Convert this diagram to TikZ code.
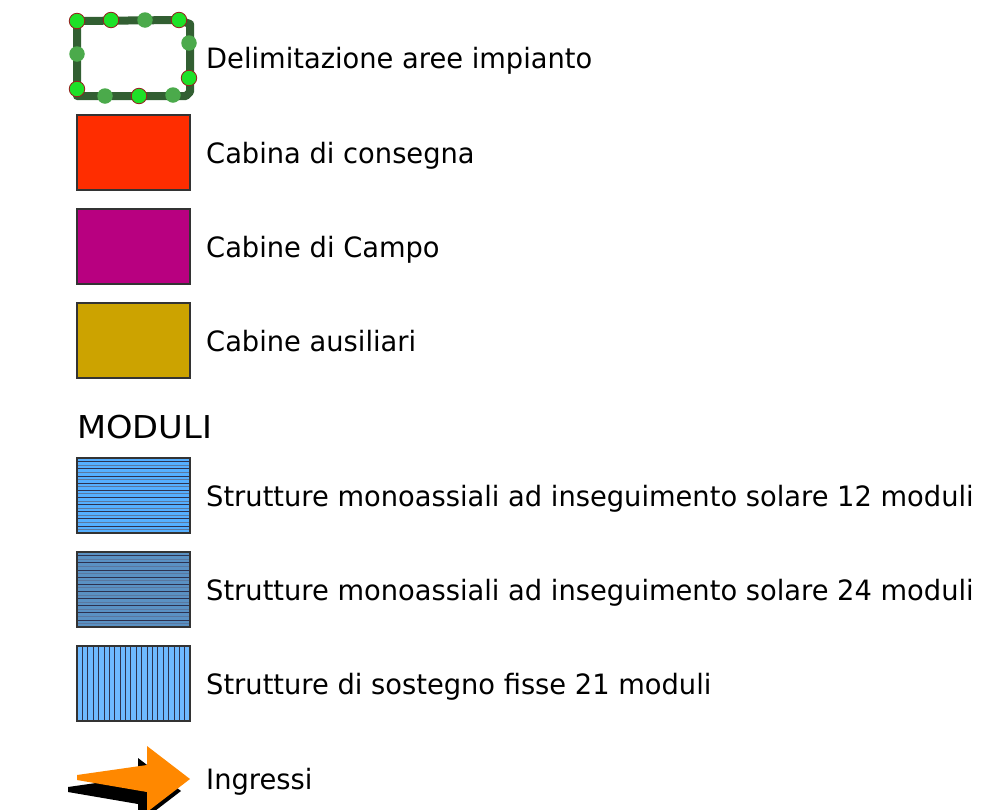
\documentclass[tikz,border=0pt]{standalone}
\usepackage{fontspec}
\setmainfont{DejaVu Sans}
\usetikzlibrary{calc}
\definecolor{fencedark}{RGB}{50,95,50}
\definecolor{dotbright}{RGB}{30,225,40}
\definecolor{dotmid}{RGB}{75,170,75}
\definecolor{dotrim}{RGB}{150,30,30}
\definecolor{cabred}{RGB}{255,45,0}
\definecolor{cabmag}{RGB}{184,0,128}
\definecolor{cabyel}{RGB}{204,163,0}
\definecolor{modA}{RGB}{85,175,255}
\definecolor{modB}{RGB}{90,145,195}
\definecolor{modC}{RGB}{110,185,255}
\definecolor{hatchdark}{RGB}{45,50,80}
\definecolor{hatchlight}{RGB}{90,120,160}
\definecolor{arroworange}{RGB}{255,136,0}
\newcommand\lblx{0.975}
\newcommand\lbltext[1]{\scalebox{\lblx}[1]{#1}}
\tikzset{
  legbox/.style={draw=black!80, line width=1.5pt},
  lbl/.style={anchor=base west, inner sep=0pt, font=\fontsize{28}{32}\selectfont},
  brightdot/.style={circle, fill=dotbright, draw=dotrim, line width=0.8pt, minimum size=15.5pt, inner sep=0pt},
  middot/.style={circle, fill=dotmid, minimum size=15.5pt, inner sep=0pt},
}
\begin{document}
\begin{tikzpicture}[x=1pt,y=-1pt]
\useasboundingbox (0,0) rectangle (988,809);
% fence
\draw[fencedark, line width=8pt, line join=round]
  (77,21) -- (179,20) -- (190,24) -- (190,92) -- (186,96) -- (77,96) -- cycle;
\foreach \p in {(77,21),(111,20),(179,20),(189,78),(77,89),(139,96)}
  \node[brightdot] at \p {};
\foreach \p in {(145,20),(189,43),(77,54),(105,96),(173,95)}
  \node[middot] at \p {};
\node[lbl] (t1) at (206,68) {\lbltext{Delimitazione aree impianto}};
% cabins
\node[legbox, fill=cabred, minimum width=113pt, minimum height=75pt, inner sep=0pt] (b2) at (133.5,152.5) {};
\node[lbl] (t2) at (206,163.5) {\lbltext{Cabina di consegna}};
\node[legbox, fill=cabmag, minimum width=113pt, minimum height=75pt, inner sep=0pt] (b3) at (133.5,246.5) {};
\node[lbl] (t3) at (206,257.5) {\lbltext{Cabine di Campo}};
\node[legbox, fill=cabyel, minimum width=113pt, minimum height=75pt, inner sep=0pt] (b4) at (133.5,340.5) {};
\node[lbl] (t4) at (206,351.5) {\lbltext{Cabine ausiliari}};
\node[lbl, font=\fontsize{31.5}{36}\selectfont] (tm) at (77,438) {\scalebox{1.07}[1]{MODULI}};
% module 12
\fill[modA] (77,458) rectangle (190,533);
\foreach \i in {1,...,20} {
  \pgfmathsetmacro\yy{458+\i*75/21}
  \ifodd\i \def\hc{hatchdark}\else\def\hc{hatchlight}\fi
  \draw[\hc, line width=0.7pt] (77,\yy) -- (190,\yy);
}
\node[legbox, minimum width=113pt, minimum height=75pt, inner sep=0pt] (b5) at (133.5,495.5) {};
\node[lbl] (t5) at (206,506.5) {\lbltext{Strutture monoassiali ad inseguimento solare 12 moduli}};
% module 24
\fill[modB] (77,552) rectangle (190,627);
\foreach \i in {1,...,20} {
  \pgfmathsetmacro\yy{552+\i*75/21}
  \ifodd\i \def\hc{hatchdark}\else\def\hc{hatchlight}\fi
  \draw[\hc, line width=0.7pt] (77,\yy) -- (190,\yy);
}
\node[legbox, minimum width=113pt, minimum height=75pt, inner sep=0pt] (b6) at (133.5,589.5) {};
\node[lbl] (t6) at (206,600.5) {\lbltext{Strutture monoassiali ad inseguimento solare 24 moduli}};
% module 21
\fill[modC] (77,646) rectangle (190,721);
\foreach \i in {1,...,20} {
  \pgfmathsetmacro\xx{77+\i*113/21}
  \draw[hatchdark, line width=0.7pt] (\xx,646) -- (\xx,721);
}
\node[legbox, minimum width=113pt, minimum height=75pt, inner sep=0pt] (b7) at (133.5,683.5) {};
\node[lbl] (t7) at (206,694.5) {\lbltext{Strutture di sostegno fisse 21 moduli}};
% arrow
\fill[black] ($(77,775)+(-9,12)$) -- ($(147,765)+(-9,12)$) -- ($(147,746)+(-9,12)$) -- ($(190,779)+(-9,12)$) -- ($(147,812)+(-9,12)$) -- ($(147,792)+(-9,12)$) -- ($(77,780)+(-9,12)$) -- cycle;
\fill[arroworange] (77,775) -- (147,765) -- (147,746) -- (190,779) -- (147,812) -- (147,792) -- (77,780) -- cycle;
\node[lbl] (t8) at (206,789) {\lbltext{Ingressi}};
\end{tikzpicture}
\end{document}
